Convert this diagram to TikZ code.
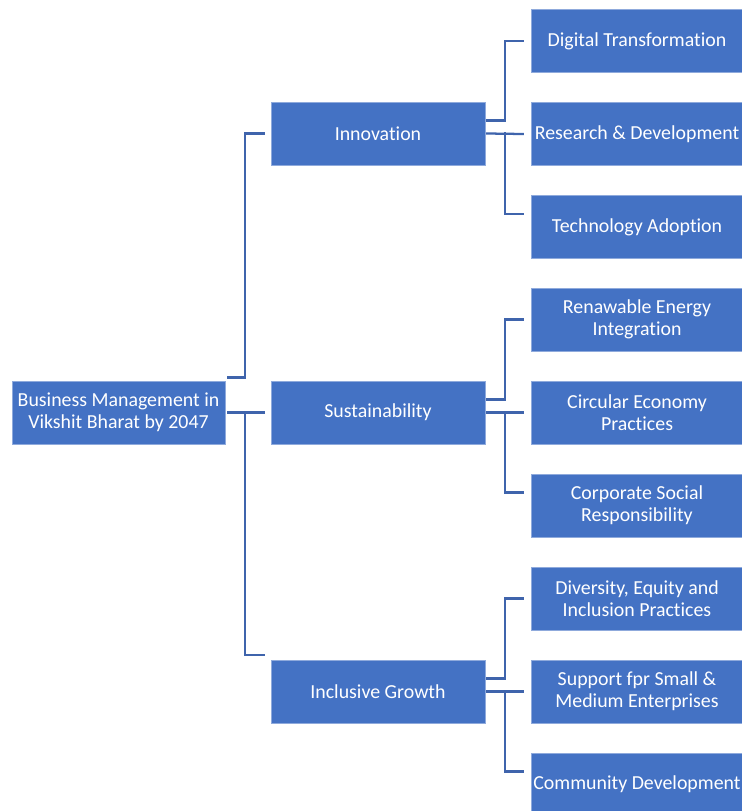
\documentclass[tikz,border=0pt]{standalone}
\usepackage{fontspec}
\setmainfont{Carlito}[Ligatures={NoCommon}]
\usetikzlibrary{calc}
\usepackage{xcolor}
\definecolor{boxblue}{HTML}{4472C4}
\definecolor{edgeblue}{HTML}{8FAADC}
\definecolor{lineblue}{HTML}{3F64AC}

\begin{document}
\begin{tikzpicture}[x=0.75pt, y=-0.75pt,
		box/.style={fill=boxblue, draw=edgeblue, line width=0.5pt, text=white, align=center,
			inner sep=0pt, minimum height=47.25pt, font=\fontsize{14.9}{16.5}\selectfont},
		rootbox/.style={box, minimum width=159.75pt},
		midbox/.style={box, minimum width=160.5pt},
		leafbox/.style={box, minimum width=159pt},
		conn/.style={draw=lineblue, line width=1.7pt, line cap=rect}]
			\useasboundingbox (0,0) rectangle (742,811);
			
			\node[rootbox] (root) at (118.5,412.5) {Business Management in\\Vikshit Bharat by 2047};
			
			\node[midbox] (inno) at (378,133.5) {Innovation};
			\node[midbox] (sust) at (378,412.5) {Sustainability};
			\node[midbox] (incl) at (378,691.5) {Inclusive Growth};
			
			\node[leafbox] (digi) at (637,41) {Digital Transformation};
			\node[leafbox] (rnd) at (637,134) {Research \& Development};
			\node[leafbox] (tech) at (637,227) {Technology Adoption};
			\node[leafbox] (rene) at (637,319.5) {Renawable Energy\\Integration};
			\node[leafbox] (circ) at (637,412.5) {Circular Economy\\Practices};
			\node[leafbox] (csr) at (637,505.5) {Corporate Social\\Responsibility};
			\node[leafbox] (dei) at (637,598.5) {Diversity, Equity and\\Inclusion Practices};
			\node[leafbox] (sme) at (637,691.5) {Support fpr Small \&\\Medium Enterprises};
			\node[leafbox] (comm) at (637,784.5) {Community Development};
			
			% root to first level
			\draw[conn] ($(root.east)+(3,-35)$) -- ++(17,0) |- ($(inno.west)+(-7,0)$);
			\draw[conn] ($(root.east)+(3,0)$) -- ($(sust.west)+(-7,0)$);
			\draw[conn] ($(root.east)+(20,0)$) |- ($(incl.west)+(-7,-36.5)$);
			
			% first level to leaves
			\foreach \p/\a/\b/\c in {inno/digi/rnd/tech, sust/rene/circ/csr, incl/dei/sme/comm} {
				\draw[conn] ($(\p.east)+(2,-13)$) -- ++(18,0) |- ($(\a.west)+(-8,0)$);
				\draw[conn] ($(\p.east)+(2,0)$) -- ($(\b.west)+(-8,0)$);
				\draw[conn] ($(\p.east)+(20,0)$) |- ($(\c.west)+(-8,-13)$);
			}
		\end{tikzpicture}
\end{document}
